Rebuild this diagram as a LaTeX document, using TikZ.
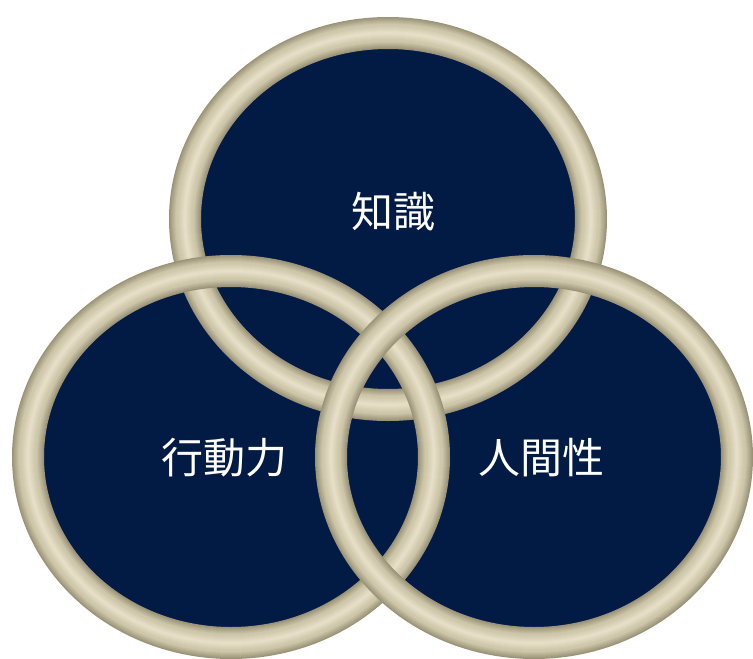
\documentclass[tikz,border=0pt]{standalone}
\usepackage{fontspec}
\newfontfamily\cjk{Noto Sans CJK JP}
\definecolor{navy}{HTML}{021B45}
\definecolor{ringEdge}{HTML}{9A9378}
\definecolor{ringMid}{HTML}{CFC7AA}
\definecolor{ringTop}{HTML}{E6DFC8}
\tikzset{
  navyfill/.style={fill=navy, draw=none},
  lbl/.style={text=white, font=\cjk\fontsize{42}{50}\selectfont, inner sep=0pt}
}
\newcommand{\myring}[1]{%
  \foreach \w [evaluate=\w as \p using {(32-\w)*100/14}] in {32,30,...,18}{%
    \path[draw=ringMid!\p!ringEdge, line width=\w pt] #1 ellipse [x radius=203pt, y radius=186pt];
  }%
  \foreach \w [evaluate=\w as \p using {(16-\w)*100/14}] in {16,14,...,2}{%
    \path[draw=ringTop!\p!ringMid, line width=\w pt] #1 ellipse [x radius=203pt, y radius=186pt];
  }%
}
\begin{document}
\begin{tikzpicture}[x=1pt,y=-1pt]
\useasboundingbox (0,0) rectangle (753,659);
\coordinate (ctop) at (388,219);
\coordinate (cleft) at (231,457);
\coordinate (cright) at (534,457);
% navy interiors
\path[navyfill] (ctop) ellipse [x radius=200pt, y radius=183pt];
\path[navyfill] (cleft) ellipse [x radius=200pt, y radius=183pt];
\path[navyfill] (cright) ellipse [x radius=200pt, y radius=183pt];
% rings
\myring{(ctop)}
\myring{(cleft)}
\myring{(cright)}
% labels
\node[lbl] (know) at (393,212) {知識};
\node[lbl] (act) at (224,458) {行動力};
\node[lbl] (hum) at (541,458) {人間性};
\end{tikzpicture}
\end{document}
